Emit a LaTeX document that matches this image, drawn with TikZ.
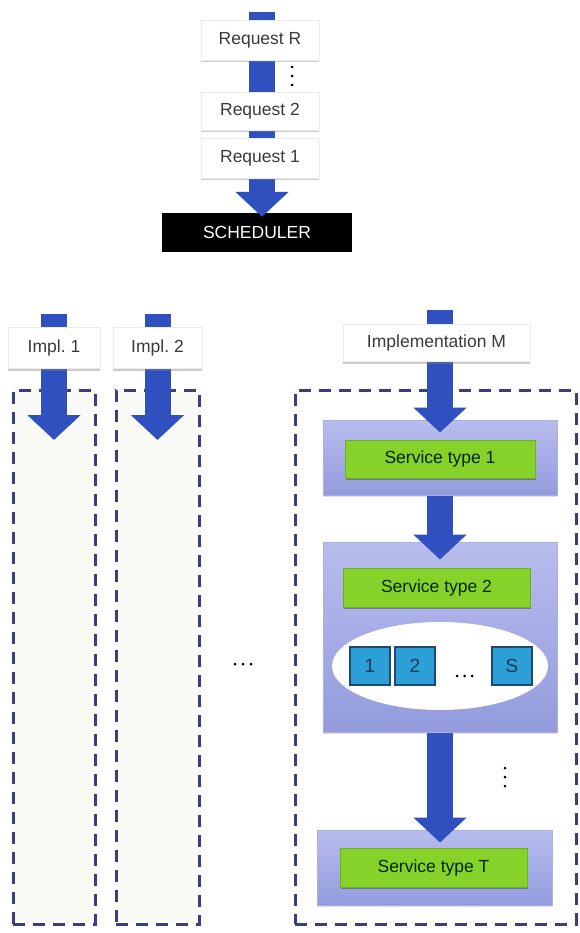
\documentclass[tikz,border=0pt]{standalone}
\usepackage{fontspec}
\setmainfont{Liberation Sans}
\usetikzlibrary{arrows.meta,shadows,shapes.geometric}
\definecolor{arrowblue}{HTML}{3050C0}
\definecolor{lavtop}{HTML}{B8BDEE}
\definecolor{lavbot}{HTML}{939BDD}
\definecolor{greenfill}{HTML}{86D22A}
\definecolor{greendraw}{HTML}{6DB022}
\definecolor{sqfill}{HTML}{2C9FD6}
\definecolor{sqdraw}{HTML}{1C4A72}
\definecolor{dashcol}{HTML}{3C3C80}
\definecolor{lanefill}{HTML}{FAFAF6}
\definecolor{txtgray}{HTML}{3A3A3A}
\tikzset{
  reqbox/.style={fill=white, draw=black!8, line width=0.8pt, minimum width=118pt, minimum height=36pt,
    inner sep=0pt, text=txtgray, font=\fontsize{17.5}{19}\selectfont,
    drop shadow={shadow xshift=0pt, shadow yshift=-2.5pt, opacity=.4, fill=gray}},
  schedbox/.style={fill=black, text=white, minimum width=190pt, minimum height=39pt, inner sep=0pt,
    font=\fontsize{17.5}{19}\selectfont},
  blockarrow/.style={draw=arrowblue, line width=26pt,
    -{Triangle[length=25pt, width=52pt, fill=arrowblue]}},
  lane/.style={draw=dashcol, line width=3pt, dash pattern=on 12pt off 8pt},
  lavbox/.style={top color=lavtop, bottom color=lavbot, draw=lavbot!80!white, line width=1pt,
    inner sep=0pt, drop shadow={shadow xshift=0pt, shadow yshift=-2pt, opacity=.25, fill=gray}},
  greenbox/.style={fill=greenfill, draw=greendraw, line width=1pt, inner sep=0pt,
    text=black!85!green, font=\fontsize{17.5}{19}\selectfont,
    drop shadow={shadow xshift=1pt, shadow yshift=-2pt, opacity=.3, fill=black}},
  sqbox/.style={fill=sqfill, draw=sqdraw, line width=1.2pt, minimum width=40pt, minimum height=38pt,
    inner sep=0pt, text=sqdraw!80!black, font=\fontsize{19}{21}\selectfont},
  dotc/.style={fill=black, circle, inner sep=0pt, minimum size=3pt}
}
\begin{document}
\begin{tikzpicture}[x=1pt,y=-1pt]
\useasboundingbox (0,0) rectangle (580,933);
% request stack
\coordinate (rtop) at (262,12);
\node[schedbox] (sched) at (257,232.5) {SCHEDULER};
\draw[blockarrow, shorten >=-4pt] (rtop) -- (rtop |- sched.north);
\node[reqbox, minimum height=40pt] (reqR) at (260,40) {Request R};
\node[reqbox, minimum height=38pt] (req2) at (260,111) {Request 2};
\node[reqbox, minimum height=40pt] (req1) at (260,158) {Request 1};
\node[dotc] (v1) at (292,67) {};
\node[dotc] (v2) at (292,76) {};
\node[dotc] (v3) at (292,85) {};
% lanes
\node[lane, fill=lanefill, minimum width=82pt, minimum height=534pt, inner sep=0pt] (lane1) at (54,657) {};
\node[lane, fill=lanefill, minimum width=83pt, minimum height=534pt, inner sep=0pt] (lane2) at (157.5,657) {};
\node[lane, fill=white, minimum width=281pt, minimum height=534pt, inner sep=0pt] (lane3) at (435.5,657) {};
% implementation arrows
\coordinate (i1top) at (54,314);
\coordinate (i1tip) at (54,440);
\coordinate (i2top) at (157.5,314);
\coordinate (i2tip) at (157.5,440);
\coordinate (imtop) at (440,310);
\draw[blockarrow] (i1top) -- (i1tip);
\draw[blockarrow] (i2top) -- (i2tip);
% service boxes
\node[lavbox, minimum width=234pt, minimum height=75pt] (lav1) at (440,457.5) {};
\node[lavbox, minimum width=234pt, minimum height=190pt] (lav2) at (440,637) {};
\node[lavbox, minimum width=235pt, minimum height=75pt] (lavT) at (434.5,867.5) {};
\draw[blockarrow, shorten >=-13pt] (imtop) -- (imtop |- lav1.north);
\draw[blockarrow, shorten >=-18pt] (lav1.south) -- (lav2.north);
\draw[blockarrow, shorten >=-13pt] (lav2.south) -- (lav2.south |- lavT.north);
\node[greenbox, minimum width=190pt, minimum height=38pt] (g1) at (440,459) {Service type 1};
\node[greenbox, minimum width=187pt, minimum height=39pt] (g2) at (436.5,587.5) {Service type 2};
\node[greenbox, minimum width=187pt, minimum height=39pt] (gT) at (433.5,867.5) {Service type T};
\node[ellipse, fill=white, minimum width=216pt, minimum height=88pt, inner sep=0pt] (ell) at (440,666) {};
\node[sqbox] (s1) at (370,666) {1};
\node[sqbox] (s2) at (415,666) {2};
\node[sqbox] (sS) at (512,666) {S};
\node[dotc] (e1) at (457,676) {};
\node[dotc] (e2) at (464.5,676) {};
\node[dotc] (e3) at (472,676) {};
% impl boxes
\node[reqbox, minimum width=92pt, minimum height=41pt] (impl1) at (54,347.5) {Impl.\ 1};
\node[reqbox, minimum width=89pt, minimum height=41pt] (impl2) at (157.5,347.5) {Impl.\ 2};
\node[reqbox, minimum width=187pt, minimum height=37pt] (implM) at (436.5,343) {Implementation M};
% ellipsis between lanes
\node[dotc] (h1) at (235,664) {};
\node[dotc] (h2) at (243,664) {};
\node[dotc] (h3) at (251,664) {};
% vertical dots
\node[dotc] (t1) at (505,768) {};
\node[dotc] (t2) at (505,777) {};
\node[dotc] (t3) at (505,786) {};
\end{tikzpicture}
\end{document}
